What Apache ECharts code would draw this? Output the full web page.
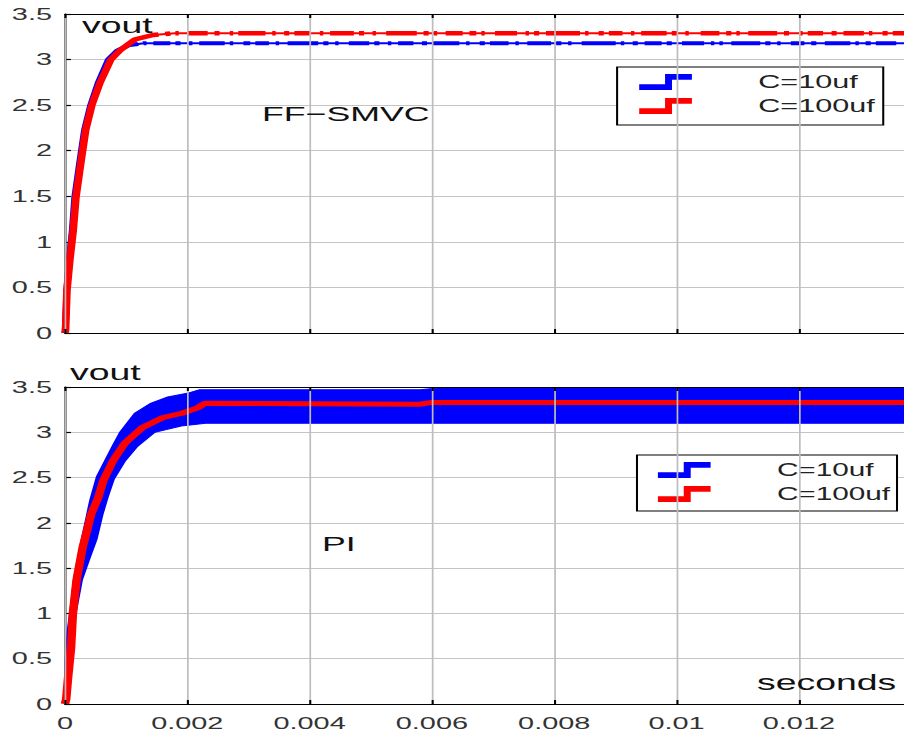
<!DOCTYPE html>
<html>
<head>
<meta charset="utf-8">
<title>vout step response</title>
<script src="https://cdn.jsdelivr.net/npm/echarts@6/dist/echarts.min.js"></script>
<style>
  html, body { margin: 0; padding: 0; background: #fff; overflow: hidden; }
  /* The figure is drawn narrow and stretched horizontally, like the original wide export */
  #chart { width: 532px; height: 738px; transform: scaleX(1.7); transform-origin: 0 0; }
</style>
</head>
<body>
<div id="chart"></div>
<script>
// ---- FF-SMVC response (top panel) ----
const ffTime10  = [0, 0.00001, 0.00003, 0.00007, 0.00012, 0.00016, 0.00024, 0.00032, 0.00042, 0.00054, 0.00071, 0.00086, 0.00105, 0.0013, 0.014];
const ffVout10  = [0, 0.1, 0.47, 0.8, 1.13, 1.49, 1.87, 2.23, 2.5, 2.74, 3.0, 3.1, 3.16, 3.18, 3.18];
const ffTime100 = [0, 0.00001, 0.000033, 0.00008, 0.000136, 0.00018, 0.00026, 0.00034, 0.00044, 0.00057, 0.00075, 0.0009, 0.00114, 0.00144, 0.0018, 0.014];
const ffVout100 = [0, 0.03, 0.47, 0.8, 1.13, 1.49, 1.87, 2.23, 2.5, 2.74, 3.0, 3.1, 3.22, 3.27, 3.29, 3.29];

// ---- PI response (bottom panel) ----
// C=10uf ripples heavily: kept as an upper and a lower envelope
const piUpperT10 = [0, 0.00001, 0.00004, 0.00008, 0.00015, 0.00025, 0.00041, 0.00052, 0.00077, 0.0009, 0.00114, 0.0014, 0.00168, 0.002, 0.0022, 0.0058, 0.0061, 0.014];
const piUpperV10 = [0, 0.5, 0.8, 1.0, 1.4, 1.75, 2.25, 2.51, 2.84, 3.0, 3.21, 3.32, 3.39, 3.43, 3.47, 3.47, 3.49, 3.49];
const piLowerT10 = [0, 0.00005, 0.00015, 0.00028, 0.0004, 0.00052, 0.00062, 0.0007, 0.0008, 0.00098, 0.00118, 0.00147, 0.0019, 0.0023, 0.014];
const piLowerV10 = [0, 0.3, 0.9, 1.37, 1.6, 1.82, 2.1, 2.28, 2.48, 2.68, 2.84, 3.0, 3.07, 3.1, 3.1];
const piTime100  = [0, 0.00002, 0.00005, 0.0001, 0.00013, 0.00019, 0.00029, 0.00043, 0.00054, 0.00063, 0.00079, 0.00098, 0.00126, 0.00159, 0.00191, 0.00217, 0.00229, 0.0058, 0.006, 0.014];
const piVout100  = [0, 0.05, 0.28, 0.62, 1.0, 1.37, 1.73, 2.1, 2.27, 2.47, 2.69, 2.88, 3.05, 3.16, 3.21, 3.27, 3.32, 3.31, 3.33, 3.33];

// ---- axes / labels ----
const tMax = 0.014;
const tStep = 0.002;
const vMax = 3.5;
const vStep = 0.5;
const seriesNames = ['C=10uf', 'C=100uf'];
const panelTitles = ['FF\u2212SMVC', 'PI'];

const BLUE = '#0000ff';
const RED = '#ff0000';
const FONT = '"Liberation Sans", Arial, Helvetica, sans-serif';

const pairs = (xs, ys) => xs.map((x, i) => [x, ys[i]]);

// marker-like texture on the FF-SMVC traces: solid through the rise, broken afterwards
const redDash = [315, 4, 3, 3, 2, 5, 12, 4, 3, 6, 2, 3, 16, 4, 2, 5, 3, 3, 9, 6, 2, 4, 14, 3, 3, 5, 2, 6, 18, 4, 3, 3, 2, 5, 10, 4, 4, 3, 2, 6, 13, 5, 2, 3, 3, 4, 20, 3, 2, 6, 3, 3, 8, 5, 2, 4, 15, 3, 3, 5, 2, 7, 11, 4, 3, 3, 2, 5, 17, 4, 3, 6, 2, 3, 9, 5, 3, 4, 12, 3, 2, 6, 3, 3, 16, 4, 2, 5, 3, 4, 10, 3, 2, 6, 14, 4, 3, 3, 2, 5, 19, 4];
const blueDash = [300, 3, 2, 4, 10, 3, 3, 5, 2, 4, 15, 3, 2, 6, 4, 3, 8, 4, 2, 5, 18, 3, 3, 4, 2, 6, 12, 3, 3, 5, 2, 4, 9, 5, 3, 3, 16, 4, 2, 6, 3, 3, 11, 4, 2, 5, 14, 3, 3, 4, 2, 6, 20, 3, 2, 5, 3, 4, 10, 3, 3, 6, 13, 4, 2, 3, 2, 5, 17, 3, 3, 4, 2, 6, 8, 4, 3, 5, 15, 3, 2, 4, 3, 3, 12, 5, 2, 6, 19, 3, 3, 4, 2, 5, 9, 4, 3, 3, 14, 4];

// step-shaped legend glyph
const stepIcon = 'path://M0,11 L26,11 L26,0 L53,0 L53,6 L33,6 L33,17 L0,17 Z';

// plot boxes run past the right edge of the page
const grids = [
  { left: 38.2, top: 14, width: 503.7, height: 319, containLabel: false, outerBoundsMode: 'none' },
  { left: 38.2, top: 387, width: 503.7, height: 317, containLabel: false, outerBoundsMode: 'none' }
];

function xAxisBottom(gi, labels) {
  return {
    type: 'value', gridIndex: gi, position: 'bottom', min: 0, max: tMax, interval: tStep,
    axisLine: { show: true, onZero: false, lineStyle: { color: '#000', width: 1.2 } },
    axisTick: { show: true, inside: true, length: 4, lineStyle: { color: '#000', width: 1.2 } },
    splitLine: { show: true, lineStyle: { color: '#bdbdbd', width: 1 } },
    axisLabel: { show: labels, showMaxLabel: false, margin: 11, fontSize: 17, color: '#333', fontFamily: FONT },
    z: 5
  };
}
function xAxisTop(gi) {
  return {
    type: 'value', gridIndex: gi, position: 'top', min: 0, max: tMax, interval: tStep,
    axisLine: { show: true, onZero: false, lineStyle: { color: '#000', width: 1.2 } },
    axisTick: { show: true, inside: true, length: 4, lineStyle: { color: '#000', width: 1.2 } },
    splitLine: { show: false },
    axisLabel: { show: false },
    z: 5
  };
}
function yAxisLeft(gi) {
  return {
    type: 'value', gridIndex: gi, min: 0, max: vMax, interval: vStep,
    axisLine: { show: true, onZero: false, lineStyle: { color: '#000', width: 1.2 } },
    axisTick: { show: true, inside: true, length: 3.5, lineStyle: { color: '#000', width: 1.2 } },
    splitLine: { show: true, lineStyle: { color: '#c4c4c4', width: 1.2 } },
    axisLabel: { margin: 7.6, fontSize: 17, color: '#333', fontFamily: FONT }
  };
}

function legendAt(left, top, padding, fontSize) {
  return {
    orient: 'vertical', left: left, top: top, padding: padding,
    itemWidth: 31, itemHeight: 16, itemGap: 4,
    icon: stepIcon, symbolKeepAspect: false, selectedMode: false,
    borderColor: '#000', borderWidth: 1.2, backgroundColor: '#fff',
    textStyle: { fontSize: fontSize, color: '#222', fontFamily: FONT, lineHeight: 20, padding: [0, 0, 0, 34] },
    data: [
      { name: seriesNames[0], itemStyle: { color: BLUE } },
      { name: seriesNames[1], itemStyle: { color: RED } }
    ]
  };
}

function textItem(str, x, y, size) {
  return {
    type: 'text', x: x, y: y, z: 20,
    style: { text: str, fontSize: size, fontFamily: FONT, fill: '#111', align: 'left', verticalAlign: 'middle' }
  };
}

const option = {
  animation: false,
  backgroundColor: '#fff',
  grid: grids,
  xAxis: [xAxisBottom(0, false), xAxisTop(0), xAxisBottom(1, true), xAxisTop(1)],
  yAxis: [yAxisLeft(0), yAxisLeft(1)],
  legend: [
    legendAt(363, 67, [5, 5, 9, 13], 18),
    legendAt(374.7, 455, [5, 4, 7, 12.3], 17.5)
  ],
  graphic: [
    textItem('vout', 48.2, 25, 22),
    textItem('vout', 41.2, 372.5, 22),
    textItem(panelTitles[0], 154.1, 113, 21),
    textItem(panelTitles[1], 189.4, 543, 21),
    textItem('seconds', 445.3, 682, 22)
  ],
  series: [
    // top panel, C=10uf
    { type: 'line', name: seriesNames[0], xAxisIndex: 0, yAxisIndex: 0, data: pairs(ffTime10, ffVout10),
      showSymbol: false, lineStyle: { color: BLUE, width: 2 }, itemStyle: { color: BLUE }, z: 2 },
    { type: 'line', name: seriesNames[0], xAxisIndex: 0, yAxisIndex: 0, data: pairs(ffTime10, ffVout10),
      showSymbol: false, lineStyle: { color: BLUE, width: 4, type: blueDash }, itemStyle: { color: BLUE }, z: 2 },
    // top panel, C=100uf
    { type: 'line', name: seriesNames[1], xAxisIndex: 0, yAxisIndex: 0, data: pairs(ffTime100, ffVout100),
      showSymbol: false, lineStyle: { color: RED, width: 2 }, itemStyle: { color: RED }, z: 3 },
    { type: 'line', name: seriesNames[1], xAxisIndex: 0, yAxisIndex: 0, data: pairs(ffTime100, ffVout100),
      showSymbol: false, lineStyle: { color: RED, width: 4.5, type: redDash }, itemStyle: { color: RED }, z: 3 },
    // bottom panel, C=10uf ripple band
    { type: 'custom', name: seriesNames[0], xAxisIndex: 2, yAxisIndex: 1, data: [[0, 0]],
      itemStyle: { color: BLUE }, z: 2,
      renderItem: function (params, api) {
        const pts = [];
        for (let i = 0; i < piUpperT10.length; i++) pts.push(api.coord([piUpperT10[i], piUpperV10[i]]));
        for (let i = piLowerT10.length - 1; i >= 0; i--) pts.push(api.coord([piLowerT10[i], piLowerV10[i]]));
        return { type: 'polygon', shape: { points: pts }, style: { fill: BLUE, stroke: BLUE, lineWidth: 1 } };
      }
    },
    // bottom panel, C=100uf
    { type: 'line', name: seriesNames[1], xAxisIndex: 2, yAxisIndex: 1, data: pairs(piTime100, piVout100),
      showSymbol: false, lineStyle: { color: RED, width: 5 }, itemStyle: { color: RED }, z: 3 }
  ]
};

const chart = echarts.init(document.getElementById('chart'), null, { renderer: 'svg' });
chart.setOption(option);
</script>
</body>
</html>
